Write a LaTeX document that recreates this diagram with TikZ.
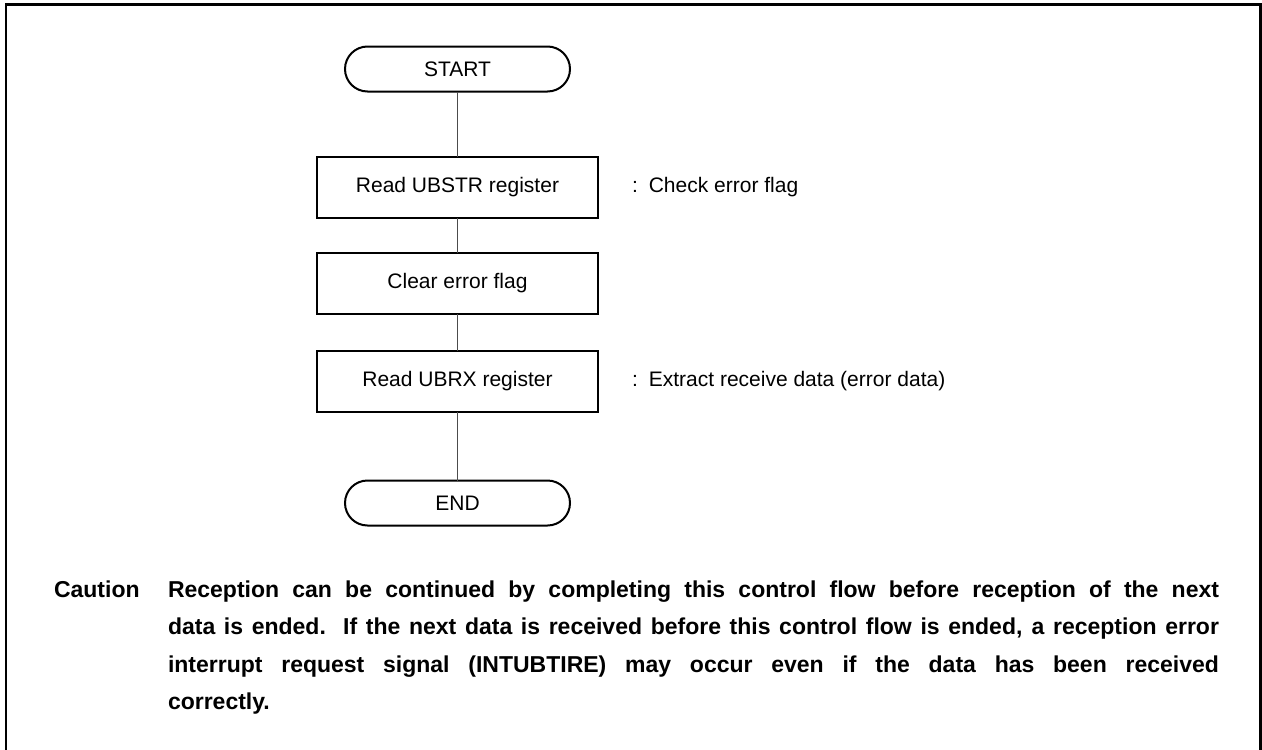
\documentclass[tikz,border=0pt]{standalone}
\usepackage{fontspec}
\setmainfont{Liberation Sans}
\usetikzlibrary{shapes.misc}
\begin{document}
\begin{tikzpicture}[x=1pt,y=-1pt,
  every node/.style={inner sep=0pt, outer sep=0pt},
  term/.style={rounded rectangle, draw=black, line width=2pt, minimum width=225pt, minimum height=45pt, font=\fontsize{21}{25}\selectfont},
  procbox/.style={rectangle, draw=black, line width=2pt, minimum width=281pt, minimum height=61pt, font=\fontsize{21}{25}\selectfont},
  conn/.style={draw=black!70, line width=1pt},
  note/.style={anchor=west, font=\fontsize{21}{25}\selectfont},
  caut/.style={anchor=base west, font=\fontsize{23}{28}\selectfont\bfseries}
]
\useasboundingbox (0,0) rectangle (1262,750);
\draw[line width=2.5pt] (6,750) -- (6,4.5) -- (1260.5,4.5) -- (1260.5,750);

\node[term] (start) at (457.5,69) {START};
\node[procbox] (b1) at (457.5,187.5) {Read UBSTR register};
\node[procbox] (b2) at (457.5,283.5) {Clear error flag};
\node[procbox] (b3) at (457.5,381) {Read UBRX register};
\node[term] (end) at (457.5,503) {END};

\draw[conn] (start) -- (b1);
\draw[conn] (b1) -- (b2);
\draw[conn] (b2) -- (b3);
\draw[conn] (b3) -- (end);

\node[note] (n1) at (632,187.5) {:\hspace{11pt}Check error flag};
\node[note] (n3) at (632,381) {:\hspace{11pt}Extract receive data (error data)};

\node[caut] (cl) at (54,597) {Caution};
\node[caut] (c1) at (168,597) {\makebox[1051pt][s]{Reception can be continued by completing this control flow before reception of the next}};
\node[caut] (c2) at (168,634.5) {\makebox[1051pt][s]{data is ended.\ \ If the next data is received before this control flow is ended, a reception error}};
\node[caut] (c3) at (168,672) {\makebox[1051pt][s]{interrupt request signal (INTUBTIRE) may occur even if the data has been received}};
\node[caut] (c4) at (168,709.5) {correctly.};
\end{tikzpicture}
\end{document}
